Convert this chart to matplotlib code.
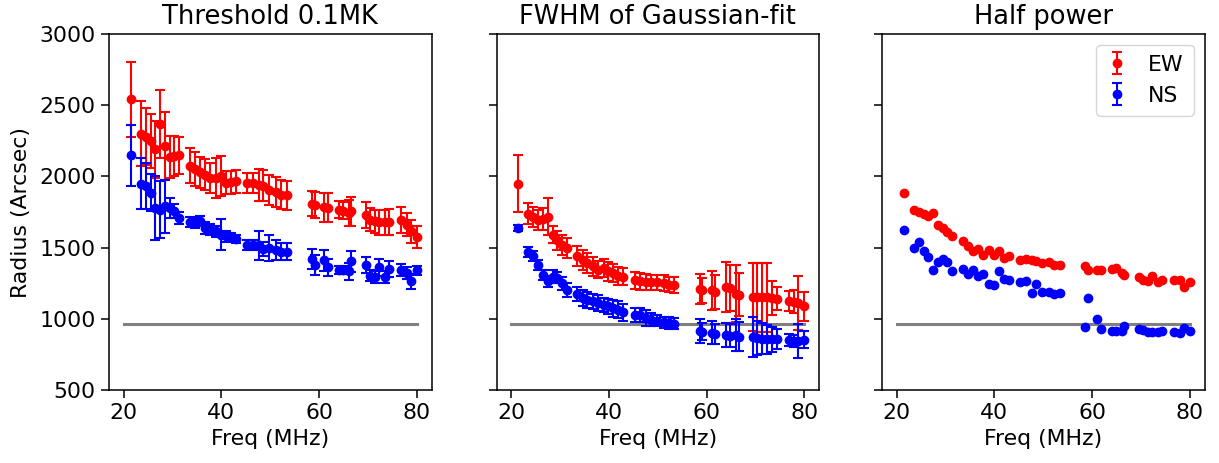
import numpy as np
import matplotlib
matplotlib.use("Agg")
import matplotlib.pyplot as plt

# Frequencies (MHz)
freq = [21.5,
        23.5, 24.5, 25.5, 26.5, 27.5, 28.5, 29.4, 30.4, 31.4,
        33.5, 34.6, 35.6, 36.7, 37.7, 38.9, 39.9, 40.9, 41.9, 42.9,
        45.3, 46.4, 47.6, 48.6, 49.8, 51.2, 52.3, 53.4,
        58.6, 59.1, 61.0, 61.8, 64.0, 64.8, 66.1, 66.6, 69.5, 70.4,
        71.4, 72.3, 73.4, 74.4, 76.8, 77.9, 78.8, 80.0]

# Panel 1: Threshold 0.1MK
thr_ew = [2541,
          2301, 2278, 2247, 2189, 2370, 2212, 2137, 2142, 2147,
          2076, 2053, 2029, 2013, 1990, 1990, 2001, 1955, 1959, 1966,
          1955, 1955, 1940, 1936, 1907, 1888, 1872, 1867,
          1809, 1800, 1783, 1780, 1767, 1760, 1745, 1755, 1731, 1696,
          1684, 1677, 1677, 1680, 1696, 1661, 1614, 1575]
thr_ew_err = [265,
              225, 200, 190, 200, 240, 240, 150, 140, 130,
              125, 120, 110, 110, 105, 140, 140, 80, 80, 80,
              70, 70, 110, 110, 105, 105, 100, 100,
              90, 90, 100, 100, 60, 60, 90, 100, 90, 80,
              80, 90, 90, 90, 90, 80, 80, 80]
thr_ns = [2147,
          1950, 1931, 1884, 1779, 1767, 1790, 1779, 1755, 1708,
          1677, 1673, 1684, 1638, 1626, 1615, 1591, 1580, 1575, 1560,
          1520, 1515, 1515, 1490, 1495, 1480, 1470, 1470,
          1420, 1380, 1410, 1363, 1344, 1344, 1333, 1403, 1380, 1302,
          1293, 1361, 1293, 1349, 1344, 1321, 1262, 1340]
thr_ns_err = [215,
              180, 160, 130, 225, 200, 185, 70, 50, 40,
              35, 35, 35, 40, 40, 40, 110, 40, 30, 30,
              35, 35, 100, 50, 90, 70, 60, 60,
              70, 70, 75, 60, 30, 30, 60, 75, 55, 40,
              40, 60, 40, 55, 40, 40, 50, 30]

# Panel 2: FWHM of Gaussian-fit
fw_ew = [1948,
         1738, 1715, 1696, 1700, 1715, 1591, 1551, 1520, 1497,
         1438, 1410, 1395, 1368, 1344, 1356, 1333, 1320, 1300, 1297,
         1269, 1265, 1260, 1255, 1255, 1250, 1240, 1239,
         1209, 1200, 1199, 1190, 1223, 1215, 1175, 1170, 1152, 1150,
         1150, 1150, 1145, 1140, 1126, 1120, 1110, 1087]
fw_ew_err = [200,
             75, 70, 70, 75, 130, 60, 65, 70, 70,
             70, 70, 70, 65, 60, 65, 65, 65, 65, 60,
             60, 60, 55, 55, 55, 55, 55, 55,
             105, 90, 140, 120, 175, 160, 200, 150, 240, 240,
             240, 240, 120, 80, 70, 80, 190, 100]
fw_ns = [1638,
         1466, 1438, 1380, 1309, 1262, 1297, 1290, 1250, 1204,
         1176, 1145, 1133, 1122, 1110, 1099, 1087, 1075, 1063, 1047,
         1028, 1028, 1005, 993, 988, 975, 970, 965,
         917, 910, 903, 895, 887, 880, 887, 875, 875, 865,
         860, 855, 855, 860, 852, 845, 845, 852]
fw_ns_err = [20,
             35, 35, 35, 35, 40, 45, 40, 45, 50,
             50, 55, 55, 55, 55, 50, 55, 60, 60, 60,
             50, 50, 55, 45, 40, 40, 40, 40,
             85, 60, 80, 70, 85, 80, 110, 100, 140, 120,
             110, 100, 90, 70, 40, 40, 120, 60]

# Panel 3: Half power
hp_ew = [1884,
         1762, 1750, 1735, 1720, 1743, 1661, 1638, 1607, 1579,
         1544, 1513, 1473, 1490, 1450, 1480, 1450, 1473, 1427, 1438,
         1410, 1420, 1415, 1403, 1392, 1396, 1380, 1375,
         1368, 1344, 1340, 1340, 1349, 1356, 1321, 1309, 1297, 1274,
         1262, 1302, 1255, 1274, 1274, 1269, 1223, 1255]
hp_ns = [1621,
         1497, 1537, 1473, 1434, 1344, 1396, 1420, 1396, 1333,
         1349, 1316, 1344, 1302, 1316, 1246, 1236, 1333, 1279, 1274,
         1255, 1267, 1180, 1246, 1185, 1185, 1173, 1180,
         941, 1145, 1000, 927, 917, 917, 917, 950, 927, 922,
         910, 910, 910, 915, 910, 899, 934, 917]

solar_radius = 960
hline_x = [20, 80]

titles = ["Threshold 0.1MK", "FWHM of Gaussian-fit", "Half power"]

W, H = 1219, 463
fig = plt.figure(figsize=(W / 100, H / 100), dpi=100)
lefts = [109, 496.5, 882]
bottom = 1 - 390 / H
height = (390 - 34) / H
width = 322.5 / W
axes = []
for i, l in enumerate(lefts):
    ax = fig.add_axes([l / W, bottom, width, height], sharey=axes[0] if axes else None)
    axes.append(ax)

fs = 15.8
ekw = dict(fmt='o', ms=6, capsize=3.5, elinewidth=1.5, capthick=1.5)

ax = axes[0]
h_ew = ax.errorbar(freq, thr_ew, yerr=thr_ew_err, color='red', **ekw)
h_ns = ax.errorbar(freq, thr_ns, yerr=thr_ns_err, color='blue', **ekw)

ax = axes[1]
ax.errorbar(freq, fw_ew, yerr=fw_ew_err, color='red', **ekw)
ax.errorbar(freq, fw_ns, yerr=fw_ns_err, color='blue', **ekw)

ax = axes[2]
ax.plot(freq, hp_ew, 'o', ms=6, color='red')
ax.plot(freq, hp_ns, 'o', ms=6, color='blue')
ax.legend([h_ew, h_ns], ['EW', 'NS'], loc='upper right', fontsize=fs,
          handlelength=1.0, borderpad=0.45, handletextpad=0.9)

for i, ax in enumerate(axes):
    ax.plot(hline_x, [solar_radius, solar_radius], color='gray', lw=2.2, zorder=0)
    ax.set_title(titles[i], fontsize=18.5, pad=7)
    ax.set_xlabel("Freq (MHz)", fontsize=fs, labelpad=4)
    ax.set_xticks([20, 40, 60, 80])
    ax.tick_params(labelsize=fs, length=5.5, width=1.1, pad=4)
    for s in ax.spines.values():
        s.set_linewidth(1.1)
    ax.set_ylim(500, 3000)
    if i > 0:
        ax.tick_params(labelleft=False)
axes[0].set_ylabel("Radius (Arcsec)", fontsize=fs, labelpad=6)

fig.savefig("out.png", dpi=100)
